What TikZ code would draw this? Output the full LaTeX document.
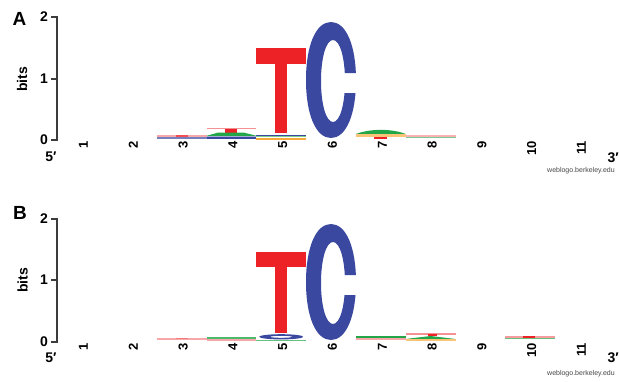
\documentclass[tikz,border=0pt]{standalone}
\usepackage{fontspec}
\setmainfont{Liberation Sans}
\definecolor{lred}{RGB}{236,34,39}
\definecolor{lblue}{RGB}{58,72,160}
\definecolor{lgreen}{RGB}{34,166,72}
\definecolor{lorange}{RGB}{247,170,60}
\definecolor{axisgray}{RGB}{60,60,60}
\definecolor{webgray}{RGB}{70,70,70}
\newcommand{\logoC}{%
  \begin{scope}
    \clip (290,0) -- (370,0) -- (370,73) -- (338.5,73) -- (338.5,93)
          -- (370,93) -- (370,150) -- (290,150) -- cycle;
    \fill[lblue,even odd rule]
      (331,22) .. controls (316,22) and (306,45) .. (306,80)
      .. controls (306,115) and (316,138) .. (331,138)
      .. controls (346,138) and (356,115) .. (356,80)
      .. controls (356,45) and (346,22) .. (331,22) -- cycle
      (333,40) .. controls (326,40) and (321,58) .. (321,81)
      .. controls (321,104) and (326,122) .. (333,122)
      .. controls (340,122) and (345,104) .. (345,81)
      .. controls (345,58) and (340,40) .. (333,40) -- cycle;
  \end{scope}}
\begin{document}
\begin{tikzpicture}[x=1pt,y=-1pt,
  ax/.style={draw=axisgray,line width=1.3pt},
  ticklab/.style={font=\bfseries\fontsize{14}{14}\selectfont,anchor=east,inner sep=0},
  collab/.style={font=\bfseries\fontsize{13}{13}\selectfont,rotate=90,anchor=east,inner sep=0},
  panlab/.style={font=\bfseries\fontsize{19}{19}\selectfont,inner sep=0},
  bitslab/.style={font=\bfseries\fontsize{14}{14}\selectfont,rotate=90,inner sep=0},
  endlab/.style={font=\bfseries\fontsize{14}{14}\selectfont,inner sep=0},
  weblab/.style={font=\fontsize{7}{7}\selectfont,text=webgray,anchor=west,inner sep=0}
]
\useasboundingbox[fill=white] (0,0) rectangle (619,381);

% ---------------- Panel A ----------------
\begin{scope}
\draw[ax] (51,17) -- (57,17) -- (57,140) -- (51,140);
\draw[ax] (51,79) -- (57,79);
\node[ticklab] (a2) at (48,17) {2};
\node[ticklab] (a1) at (48,79) {1};
\node[ticklab] (a0) at (48,140) {0};
\node[panlab] (aA) at (19.5,18.5) {A};
\node[bitslab] (abits) at (22,79.5) {bits};
\node[endlab] (a5p) at (51,157) {5′};
\node[endlab,anchor=west] (a3p) at (607.5,158) {3′};
\node[weblab] (aweb) at (547,170.5) {weblogo.berkeley.edu};
\foreach \i in {1,...,11} \node[collab] (ac\i) at ({83.5+49.8*(\i-1)},140.8) {\i};
% col 3
\fill[lred!40] (156.7,135.3) rectangle (206.5,136.7);
\fill[lred!80] (176,135) rectangle (188,137);
\fill[lblue!70] (156.7,136.7) rectangle (206.5,138.5);
% col 4
\fill[lred!50] (206.5,127.5) rectangle (256.3,128.8);
\fill[lred] (225,128.8) rectangle (237,133);
\fill[lgreen] (206.5,135.8) -- (218,132.6) -- (244,132.6) -- (256.3,135.8) -- cycle;
\fill[lblue!45] (206.5,135.8) rectangle (256.3,136.6);
\fill[lblue] (206.5,136.6) rectangle (256.3,138.5);
% col 5
\fill[lred] (256.3,48) rectangle (306.1,64);
\fill[lred] (275,64) rectangle (287,133);
\fill[lblue] (256.3,134.6) rectangle (306.1,136.2);
\fill[lgreen!60] (256.3,136.2) rectangle (306.1,137.4);
\fill[lorange] (256.3,138.1) rectangle (306.1,139.7);
% col 6
\logoC
% col 7
\fill[lgreen] (355.9,134) .. controls (370,128.5) and (392,128.5) .. (405.7,134) -- cycle;
\fill[lorange!70] (355.9,134) rectangle (405.7,136.7);
\fill[lred] (374,137) rectangle (387,139);
% col 8
\fill[lred!35] (405.7,135) rectangle (455.5,136.7);
\fill[lgreen!60] (405.7,136.7) rectangle (455.5,138.3);
\end{scope}

% ---------------- Panel B ----------------
\begin{scope}[shift={(0,202)}]
\draw[ax] (51,17) -- (57,17) -- (57,140) -- (51,140);
\draw[ax] (51,78) -- (57,78);
\node[ticklab] (b2) at (48,17) {2};
\node[ticklab] (b1) at (48,78) {1};
\node[ticklab] (b0) at (48,140) {0};
\node[panlab] (bB) at (20,10.5) {B};
\node[bitslab] (bbits) at (22.5,78.5) {bits};
\node[endlab] (b5p) at (51,156) {5′};
\node[endlab,anchor=west] (b3p) at (607.5,156) {3′};
\node[weblab] (bweb) at (547,171.5) {weblogo.berkeley.edu};
\foreach \i in {1,...,11} \node[collab] (bc\i) at ({83.5+49.8*(\i-1)},140.8) {\i};
% col 3
\fill[lred!40] (156.7,135.7) rectangle (206.5,138);
\fill[lred!60] (176,135.7) rectangle (188,137);
% col 4
\fill[lgreen!80] (206.5,135.3) rectangle (256.3,137);
\fill[lred!40] (206.5,137) rectangle (256.3,138.5);
% col 5
\fill[lred] (256.3,50) rectangle (306.1,65);
\fill[lred] (275,65) rectangle (287,131);
\fill[lblue,even odd rule] (281.2,134.8) ellipse [x radius=22pt,y radius=2.6pt]
      (281.2,134.8) ellipse [x radius=11pt,y radius=1pt];
\fill[lgreen!70] (256.3,137.5) rectangle (306.1,139);
% col 6
\logoC
% col 7
\fill[lgreen] (355.9,134) rectangle (405.7,135.7);
\fill[lred!40] (355.9,135.7) rectangle (405.7,138);
% col 8
\fill[lred!50] (405.7,131.3) rectangle (455.5,132.8);
\fill[lred] (428,131.5) rectangle (437,134.3);
\fill[lgreen] (405.7,137) -- (430.6,134) -- (455.5,137) -- cycle;
\fill[lorange!70] (405.7,137) rectangle (455.5,138.5);
% col 10
\fill[lred!45] (505.3,134) rectangle (555.1,135.7);
\fill[lred] (523,134) rectangle (535,136);
\fill[lgreen!70] (505.3,135.7) rectangle (555.1,137.3);
\end{scope}
\end{tikzpicture}
\end{document}
